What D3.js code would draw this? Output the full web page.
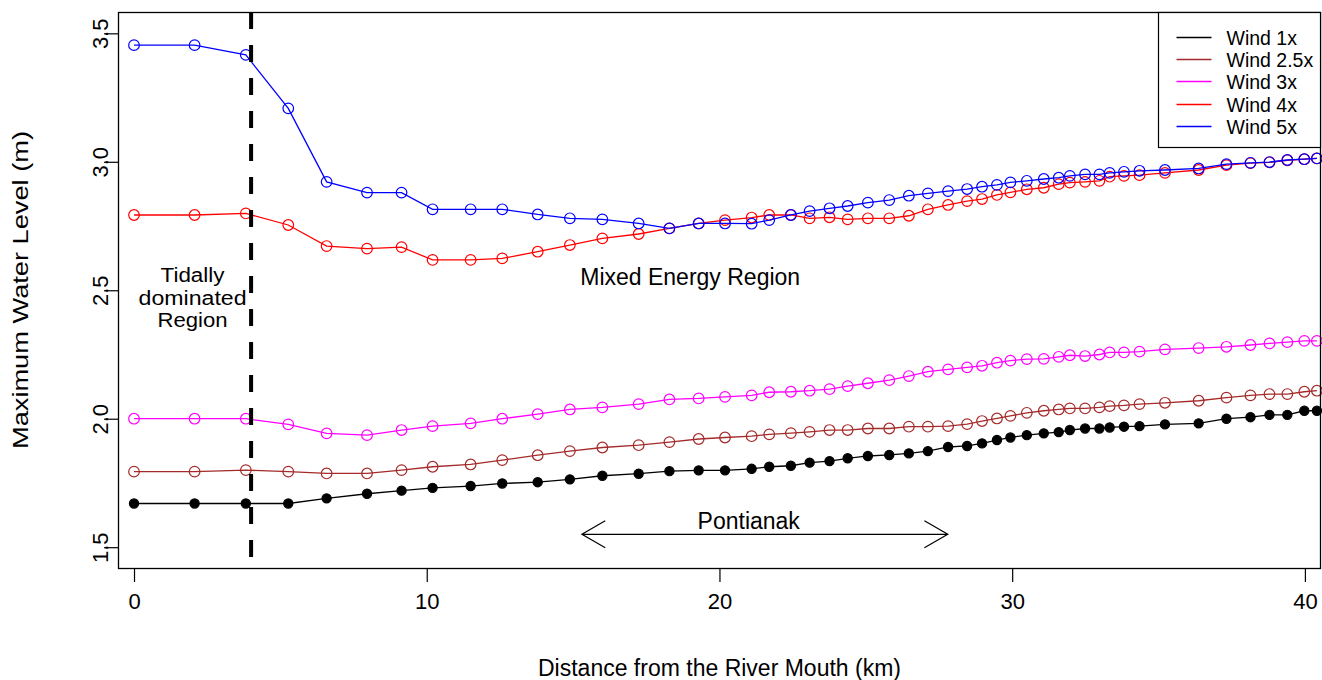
<!DOCTYPE html>
<html lang="en">
<head>
<meta charset="UTF-8">
<title>Maximum Water Level</title>
<script src="https://d3js.org/d3.v7.min.js"></script>
<style>
  body { margin: 0; background: #fff; }
  svg text { font-family: "Liberation Sans", Arial, sans-serif; fill: #000; }
</style>
</head>
<body>
<div id="grafico"></div>
<script>
// distancia desde la boca del rio (km)
const distancia = [0, 2.07, 3.82, 5.27, 6.58, 7.96, 9.14, 10.2, 11.5, 12.58, 13.79, 14.89, 16.0, 17.24,
  18.29, 19.29, 20.19, 21.1, 21.7, 22.44, 23.08, 23.76, 24.38, 25.07, 25.8, 26.47, 27.12, 27.81, 28.46,
  28.97, 29.48, 29.94, 30.5, 31.08, 31.59, 31.97, 32.49, 32.98, 33.33, 33.82, 34.35, 35.22, 36.37, 37.32,
  38.14, 38.79, 39.4, 39.98, 40.41];

const wind1 = [1.670, 1.670, 1.670, 1.670, 1.690, 1.708, 1.720, 1.731, 1.738, 1.748, 1.753, 1.764, 1.778,
  1.786, 1.796, 1.799, 1.799, 1.805, 1.813, 1.817, 1.829, 1.835, 1.846, 1.855, 1.859, 1.865, 1.874, 1.890,
  1.894, 1.904, 1.917, 1.927, 1.936, 1.943, 1.948, 1.956, 1.962, 1.962, 1.966, 1.969, 1.971, 1.978, 1.982,
  2.000, 2.006, 2.015, 2.015, 2.031, 2.031];

const wind25 = [1.794, 1.794, 1.800, 1.794, 1.787, 1.787, 1.800, 1.813, 1.822, 1.839, 1.858, 1.874, 1.888,
  1.897, 1.909, 1.921, 1.927, 1.932, 1.939, 1.944, 1.949, 1.956, 1.956, 1.962, 1.962, 1.969, 1.969, 1.971,
  1.979, 1.991, 2.001, 2.011, 2.023, 2.031, 2.036, 2.040, 2.040, 2.044, 2.049, 2.052, 2.057, 2.062, 2.070,
  2.082, 2.091, 2.096, 2.096, 2.105, 2.109];

const wind3 = [2.000, 2.000, 2.000, 1.978, 1.943, 1.936, 1.956, 1.971, 1.982, 2.000, 2.018, 2.036, 2.044,
  2.057, 2.075, 2.079, 2.085, 2.091, 2.103, 2.105, 2.109, 2.115, 2.127, 2.138, 2.150, 2.166, 2.183, 2.192,
  2.200, 2.206, 2.218, 2.226, 2.232, 2.233, 2.241, 2.247, 2.244, 2.250, 2.258, 2.258, 2.261, 2.270, 2.275,
  2.280, 2.287, 2.293, 2.298, 2.303, 2.303];

const wind4 = [2.793, 2.793, 2.799, 2.754, 2.672, 2.662, 2.668, 2.618, 2.618, 2.624, 2.650, 2.676, 2.702,
  2.719, 2.741, 2.760, 2.773, 2.783, 2.793, 2.793, 2.780, 2.784, 2.776, 2.780, 2.780, 2.790, 2.815, 2.832,
  2.847, 2.855, 2.871, 2.881, 2.893, 2.899, 2.913, 2.919, 2.922, 2.926, 2.942, 2.945, 2.948, 2.957, 2.968,
  2.987, 2.995, 2.998, 3.006, 3.010, 3.013];

const wind5 = [3.454, 3.454, 3.416, 3.208, 2.922, 2.880, 2.880, 2.815, 2.815, 2.815, 2.795, 2.780, 2.776,
  2.760, 2.741, 2.760, 2.760, 2.759, 2.773, 2.793, 2.808, 2.819, 2.828, 2.841, 2.851, 2.868, 2.877, 2.886,
  2.894, 2.903, 2.910, 2.920, 2.926, 2.933, 2.938, 2.945, 2.951, 2.951, 2.957, 2.961, 2.965, 2.968, 2.974,
  2.991, 2.996, 2.999, 3.007, 3.010, 3.013];

const nombres = ["Wind 1x", "Wind 2.5x", "Wind 3x", "Wind 4x", "Wind 5x"];
const colores = ["#000000", "#a52a2a", "#ff00ff", "#ff0000", "#0000ff"];
const ticksX = [0, 10, 20, 30, 40];
const ticksY = [1.5, 2.0, 2.5, 3.0, 3.5];

const series = [wind1, wind25, wind3, wind4, wind5].map((v, i) => ({
  nombre: nombres[i],
  color: colores[i],
  relleno: i === 0,
  puntos: v.map((d, j) => ({ x: distancia[j], y: d }))
}));

const ancho = 1322, alto = 680;
const margen = { superior: 12, derecho: 1, inferior: 112, izquierdo: 118 };
const anchoGrafico = ancho - margen.izquierdo - margen.derecho;
const altoGrafico = alto - margen.superior - margen.inferior;

const svg = d3.select("#grafico").append("svg")
  .attr("width", ancho).attr("height", alto);

const g = svg.append("g")
  .attr("transform", `translate(${margen.izquierdo},${margen.superior})`);

const x = d3.scaleLinear().domain([-0.547, 40.55]).range([0, anchoGrafico]);
const y = d3.scaleLinear().domain([1.419, 3.583]).range([altoGrafico, 0]);

// ejes estilo R
const ejeX = g.append("g")
  .attr("transform", `translate(0,${altoGrafico})`)
  .call(d3.axisBottom(x).tickValues(ticksX).tickSize(14).tickPadding(27).tickFormat(d3.format("d")));
ejeX.select(".domain").remove();
ejeX.selectAll("line").attr("stroke-width", 1.2);
ejeX.selectAll("text").attr("font-size", 22).attr("dy", 0);

const ejeY = g.append("g")
  .call(d3.axisLeft(y).tickValues(ticksY).tickSize(14).tickFormat(d3.format(".1f")));
ejeY.select(".domain").remove();
ejeY.selectAll("line").attr("stroke-width", 1.2);
ejeY.selectAll("text")
  .attr("font-size", 22)
  .attr("x", null).attr("dy", null)
  .attr("text-anchor", "middle")
  .attr("transform", "translate(-10,0) rotate(-90)");

// lineas y puntos
const linea = d3.line().x(d => x(d.x)).y(d => y(d.y));

series.forEach(s => {
  g.append("path")
    .datum(s.puntos)
    .attr("fill", "none")
    .attr("stroke", s.color)
    .attr("stroke-width", 1.3)
    .attr("d", linea);

  g.selectAll(null)
    .data(s.puntos)
    .enter()
    .append("circle")
    .attr("cx", d => x(d.x))
    .attr("cy", d => y(d.y))
    .attr("r", s.relleno ? 4.6 : 5.3)
    .attr("fill", s.relleno ? s.color : "none")
    .attr("stroke", s.color)
    .attr("stroke-width", 1.2);
});

// limite de la region mareal
g.append("line")
  .attr("x1", x(4)).attr("x2", x(4))
  .attr("y1", 0).attr("y2", altoGrafico)
  .attr("stroke", "#000")
  .attr("stroke-width", 4)
  .attr("stroke-dasharray", "17,16");

// caja
g.append("rect")
  .attr("x", 0.5).attr("y", 0.5)
  .attr("width", anchoGrafico - 1).attr("height", altoGrafico)
  .attr("fill", "none").attr("stroke", "#000").attr("stroke-width", 1.3);

// textos
const textoMarea = g.append("text")
  .attr("x", x(2)).attr("y", y(2.47))
  .attr("text-anchor", "middle").attr("font-size", 20);
["Tidally", "dominated", "Region"].forEach((t, i) => {
  textoMarea.append("tspan")
    .attr("x", x(2))
    .attr("y", y(2.47) + 7 + (i - 1) * 22.5)
    .attr("textLength", [64, 108, 70][i])
    .attr("lengthAdjust", "spacingAndGlyphs")
    .text(t);
});

g.append("text")
  .attr("x", x(19)).attr("y", y(2.55) + 8)
  .attr("text-anchor", "middle").attr("font-size", 23)
  .text("Mixed Energy Region");

g.append("text")
  .attr("x", x(21)).attr("y", y(1.6) + 8)
  .attr("text-anchor", "middle").attr("font-size", 23)
  .text("Pontianak");

// flecha doble de Pontianak
const flechaX = [15.3, 27.8], flechaY = 1.55;
const xa = x(flechaX[0]), xb = x(flechaX[1]), yf = y(flechaY);
const punta = 27, ang = Math.PI / 6;
const dx = punta * Math.cos(ang), dy = punta * Math.sin(ang);
g.append("path")
  .attr("fill", "none").attr("stroke", "#000").attr("stroke-width", 1.2)
  .attr("d", `M${xa},${yf}L${xb},${yf}` +
    `M${xa + dx},${yf - dy}L${xa},${yf}L${xa + dx},${yf + dy}` +
    `M${xb - dx},${yf - dy}L${xb},${yf}L${xb - dx},${yf + dy}`);

// leyenda
const leyenda = g.append("g").attr("transform", `translate(${anchoGrafico - 162.5},0.5)`);
leyenda.append("rect")
  .attr("width", 162).attr("height", 135)
  .attr("fill", "#fff").attr("stroke", "#000").attr("stroke-width", 1.2);
series.forEach((s, i) => {
  const fila = leyenda.append("g").attr("transform", `translate(0,${Math.round(24.7 + i * 22.3)})`);
  fila.append("line")
    .attr("x1", 18).attr("x2", 53)
    .attr("stroke", s.color).attr("stroke-width", 1.3);
  fila.append("text")
    .attr("x", 68).attr("y", 7)
    .attr("font-size", 19.5)
    .text(s.nombre);
});

// titulos de ejes
svg.append("text")
  .attr("x", margen.izquierdo + anchoGrafico / 2).attr("y", 675.5)
  .attr("text-anchor", "middle").attr("font-size", 23)
  .text("Distance from the River Mouth (km)");

svg.append("text")
  .attr("transform", `translate(28,${margen.superior + altoGrafico / 2}) rotate(-90)`)
  .attr("text-anchor", "middle").attr("font-size", 22)
  .attr("textLength", 318).attr("lengthAdjust", "spacingAndGlyphs")
  .text("Maximum Water Level (m)");
</script>
</body>
</html>
